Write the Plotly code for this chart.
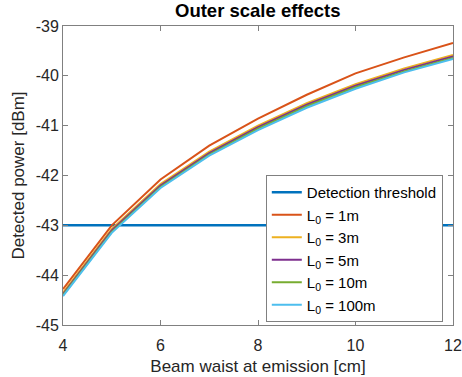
import plotly.graph_objects as go

beam_waist_cm = [4, 5, 6, 7, 8, 9, 10, 11, 12]
threshold_dbm = -43.0
p_L0_1m = [-44.28, -43.00, -42.08, -41.40, -40.86, -40.38, -39.95, -39.63, -39.34]
p_L0_3m = [-44.35, -43.07, -42.17, -41.52, -41.00, -40.55, -40.17, -39.85, -39.58]
p_L0_5m = [-44.38, -43.10, -42.20, -41.55, -41.03, -40.58, -40.20, -39.88, -39.61]
p_L0_10m = [-44.40, -43.13, -42.23, -41.58, -41.06, -40.61, -40.23, -39.91, -39.64]
p_L0_100m = [-44.42, -43.15, -42.25, -41.60, -41.09, -40.64, -40.26, -39.93, -39.66]

x_ticks = [4, 6, 8, 10, 12]
y_ticks = [-45, -44, -43, -42, -41, -40, -39]
y_tick_text = ["-45", "-44", "-43", "-42", "-41", "-40", "-39"]

series = [
    ("L<sub>0</sub> = 1m", p_L0_1m, "#D95319"),
    ("L<sub>0</sub> = 3m", p_L0_3m, "#EDB120"),
    ("L<sub>0</sub> = 5m", p_L0_5m, "#7E2F8E"),
    ("L<sub>0</sub> = 10m", p_L0_10m, "#77AC30"),
    ("L<sub>0</sub> = 100m", p_L0_100m, "#4DBEEE"),
]

fig = go.Figure()
fig.add_trace(go.Scatter(
    x=[beam_waist_cm[0], beam_waist_cm[-1]], y=[threshold_dbm, threshold_dbm],
    mode="lines", name="Detection threshold",
    line=dict(color="#0072BD", width=2.5)))
for name, vals, col in series:
    fig.add_trace(go.Scatter(x=beam_waist_cm, y=vals, mode="lines", name=name,
                             line=dict(color=col, width=2)))

axis_common = dict(showline=True, linecolor="#808080", linewidth=1, mirror="ticks",
                   ticks="inside", ticklen=5, tickcolor="#808080", showgrid=False,
                   zeroline=False, tickfont=dict(size=16, color="#262626"),
                   ticklabeloverflow="allow", automargin=False)
fig.update_layout(
    width=462, height=377,
    margin=dict(l=63, r=9, t=26, b=52),
    paper_bgcolor="white", plot_bgcolor="white",
    font=dict(family="Liberation Sans, Arial, sans-serif", color="#262626"),
    title=dict(text="<b>Outer scale effects</b>", x=0.558, xanchor="center",
               y=0.972, yanchor="middle", font=dict(size=18.5, color="black")),
    xaxis=dict(range=[4, 12], tickvals=x_ticks, ticklabelstandoff=6,
               title=dict(text="Beam waist at emission [cm]", font=dict(size=17), standoff=6),
               **axis_common),
    yaxis=dict(range=[-45, -39], tickvals=y_ticks, ticktext=y_tick_text,
               title=dict(text="Detected power [dBm]", font=dict(size=17), standoff=6),
               **axis_common),
    legend=dict(x=0.52, y=0.502, xanchor="left", yanchor="top",
                bgcolor="white", bordercolor="#808080", borderwidth=1,
                font=dict(size=15, color="black"), tracegroupgap=0,
                itemwidth=30),
    showlegend=True,
)
fig.write_html("out.html", config={"displayModeBar": False},
               post_script="document.body.style.margin='0';document.body.style.padding='0';")
